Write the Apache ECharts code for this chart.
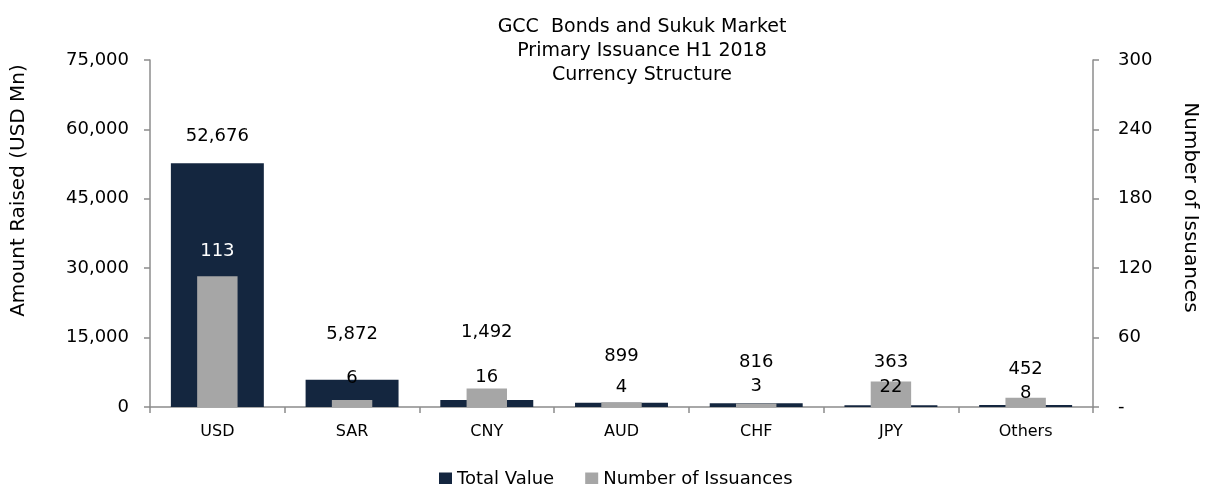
<!DOCTYPE html>
<html>
<head>
<meta charset="utf-8">
<script src="https://cdn.jsdelivr.net/npm/echarts@6/dist/echarts.min.js"></script>
<style>
  html, body { margin: 0; padding: 0; background: #fff; }
  #chart { width: 1208px; height: 484px; }
</style>
</head>
<body>
<div id="chart"></div>
<script>
// data
const currencies = ['USD', 'SAR', 'CNY', 'AUD', 'CHF', 'JPY', 'Others'];
const totalValue = [52676, 5872, 1492, 899, 816, 363, 452];
const issuances = [113, 6, 16, 4, 3, 22, 8];
const leftTicks = [0, 15000, 30000, 45000, 60000, 75000];
const rightTicks = [0, 60, 120, 180, 240, 300];

// label lifts above the bar tops (px), as placed in the original
const valueLift = [18, 37, 59, 38, 32, 34, 27];
const countLift = [16, 13, 2, 6, 8, -15, -5];

const FONT = 'DejaVu Sans';
const NAVY = '#14263f';
const GREY = '#a6a6a6';
const AXIS = '#8c8c8c';

const fmt = v => v.toLocaleString('en-US');

const chart = echarts.init(document.getElementById('chart'));

const option = {
  backgroundColor: '#fff',
  textStyle: { fontFamily: FONT },
  animation: false,
  title: {
    text: 'GCC  Bonds and Sukuk Market\nPrimary Issuance H1 2018\nCurrency Structure',
    left: 637,
    top: 10,
    textAlign: 'center',
    textStyle: { fontFamily: FONT, fontSize: 19, fontWeight: 'normal', color: '#000', lineHeight: 24 }
  },
  legend: {
    top: 465,
    left: 434,
    itemWidth: 13,
    itemHeight: 13,
    itemGap: 31,
    icon: 'rect',
    textStyle: { fontFamily: FONT, fontSize: 18, color: '#000' },
    data: ['Total Value', 'Number of Issuances']
  },
  grid: { left: 150, right: 115, top: 60, bottom: 77 },
  xAxis: [
    {
      type: 'category',
      data: currencies,
      axisLine: { lineStyle: { color: AXIS, width: 1.5 } },
      axisTick: { show: true, length: 6, lineStyle: { color: AXIS, width: 1.5 } },
      axisLabel: { color: '#000', fontSize: 16, margin: 17, fontFamily: FONT }
    },
    {
      type: 'category',
      data: currencies,
      show: false
    }
  ],
  yAxis: [
    {
      type: 'value',
      min: leftTicks[0],
      max: leftTicks[leftTicks.length - 1],
      interval: leftTicks[1] - leftTicks[0],
      name: 'Amount Raised (USD Mn)',
      nameLocation: 'middle',
      nameGap: 121,
      nameRotate: 90,
      nameTextStyle: { fontFamily: FONT, fontSize: 20, color: '#000', padding: [0, 0, 0, 86] },
      axisLine: { show: true, lineStyle: { color: AXIS, width: 1.5 } },
      axisTick: { show: true, length: 6, lineStyle: { color: AXIS, width: 1.5 } },
      splitLine: { show: false },
      axisLabel: { color: '#000', fontSize: 18, margin: 21, fontFamily: FONT, formatter: v => fmt(v) }
    },
    {
      type: 'value',
      min: rightTicks[0],
      max: rightTicks[rightTicks.length - 1],
      interval: rightTicks[1] - rightTicks[0],
      name: 'Number of Issuances',
      nameLocation: 'middle',
      nameGap: 87,
      nameRotate: -90,
      nameTextStyle: { fontFamily: FONT, fontSize: 20, color: '#000', padding: [0, 52, 0, 0] },
      axisLine: { show: true, lineStyle: { color: AXIS, width: 1.5 } },
      axisTick: { show: true, length: 6, lineStyle: { color: AXIS, width: 1.5 } },
      splitLine: { show: false },
      axisLabel: { color: '#000', fontSize: 18, margin: 25, fontFamily: FONT, formatter: v => (v === 0 ? '-' : String(v)) }
    }
  ],
  series: [
    {
      name: 'Total Value',
      type: 'bar',
      xAxisIndex: 0,
      yAxisIndex: 0,
      barWidth: '69%',
      itemStyle: { color: NAVY },
      data: totalValue.map((v, i) => ({
        value: v,
        label: { offset: [0, -valueLift[i]] }
      })),
      label: {
        show: true,
        position: 'top',
        distance: 0,
        color: '#000',
        fontSize: 18,
        fontFamily: FONT,
        formatter: p => fmt(p.value)
      }
    },
    {
      name: 'Number of Issuances',
      type: 'bar',
      xAxisIndex: 1,
      yAxisIndex: 1,
      barWidth: '30%',
      itemStyle: { color: GREY },
      data: issuances.map((v, i) => ({
        value: v,
        label: { offset: [0, -countLift[i]], color: i === 0 ? '#fff' : '#000' }
      })),
      label: {
        show: true,
        position: 'top',
        distance: 0,
        fontSize: 18,
        fontFamily: FONT,
        formatter: p => String(p.value)
      }
    }
  ]
};

chart.setOption(option);
</script>
</body>
</html>
